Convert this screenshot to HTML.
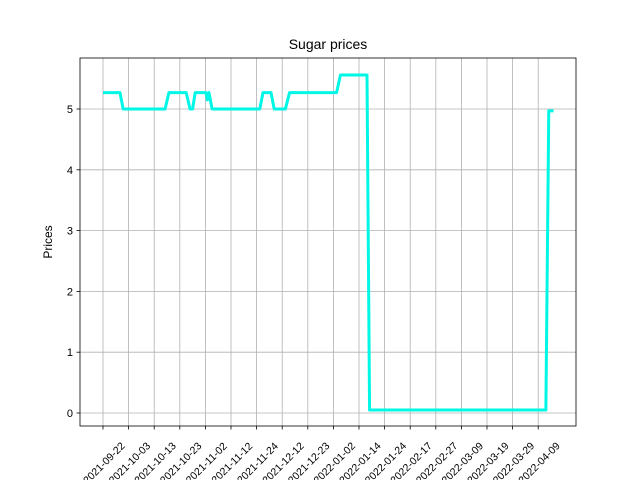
<!DOCTYPE html>
<html><head><meta charset="utf-8"><style>body{margin:0;background:#fff}svg{display:block}</style></head>
<body>
<svg id="c" width="640" height="480" xmlns="http://www.w3.org/2000/svg" font-family="Liberation Sans, DejaVu Sans, sans-serif"></svg>
<script>
const tickLabels=["2021-09-22","2021-10-03","2021-10-13","2021-10-23","2021-11-02","2021-11-12","2021-11-24","2021-12-12","2021-12-23","2022-01-02","2022-01-14","2022-01-24","2022-02-17","2022-02-27","2022-03-09","2022-03-19","2022-03-29","2022-04-09"];
const tickIdx=[0,8,16,24,32,40,48,56,64,72,80,88,96,104,112,120,128,136];
const yTicks=[0,1,2,3,4,5];
const xIdx=[0,5.3,6.3,19.4,20.6,26,27.2,28,28.8,32.2,32.6,33.1,34.1,49,50,52.5,53.5,57,58.3,73,74.2,82.5,83.3,138.4,139.3,140.8];
const prices=[5.27,5.27,5.0,5.0,5.27,5.27,5.0,5.0,5.27,5.27,5.15,5.27,5.0,5.0,5.27,5.27,5.0,5.0,5.27,5.27,5.56,5.56,0.05,0.05,4.97,4.97];
const svg=document.getElementById('c');const NS='http://www.w3.org/2000/svg';
const X=i=>103+3.2*i, Y=v=>413-60.8*v;
function mk(t,a,p){const e=document.createElementNS(NS,t);for(const k in a)e.setAttribute(k,a[k]);(p||svg).appendChild(e);return e;}
const L=80,R=576,T=58,B=426;
tickIdx.forEach((t,i)=>{const x=X(t);
 const g=mk('line',{x1:x,x2:x,y1:T,y2:B,stroke:'#b0b0b0','stroke-width':0.8});
 
 const tk=mk('line',{x1:x,x2:x,y1:B,y2:B+3.5,stroke:'#000','stroke-width':0.8});
 
 const cx=x+1, cy=B+37;
 const tx=mk('text',{x:cx,y:cy+3.5,'font-size':10.5,'text-anchor':'middle',transform:`rotate(-45 ${cx} ${cy})`});
 tx.textContent=tickLabels[i];
 });
yTicks.forEach(v=>{const y=Y(v);
 const g=mk('line',{x1:L,x2:R,y1:y,y2:y,stroke:'#b0b0b0','stroke-width':0.8});
 
 const tk=mk('line',{x1:L-3.5,x2:L,y1:y,y2:y,stroke:'#000','stroke-width':0.8});
 
 const tx=mk('text',{x:L-7,y:y+4,'font-size':11,'text-anchor':'end'});tx.textContent=v;
 });
const pl=mk('polyline',{points:xIdx.map((t,i)=>X(t)+','+Y(prices[i])).join(' '),fill:'none',stroke:'#00f7e6','stroke-width':3,'stroke-linejoin':'round'});

const fr=mk('rect',{x:L,y:T,width:R-L,height:B-T,fill:'none',stroke:'#000','stroke-width':0.8});

const ti=mk('text',{x:328,y:49,'font-size':14,'text-anchor':'middle'});ti.textContent='Sugar prices';

const yl=mk('text',{x:52,y:242,'font-size':12,'text-anchor':'middle',transform:'rotate(-90 52 242)'});yl.textContent='Prices';

</script>
</body></html>
